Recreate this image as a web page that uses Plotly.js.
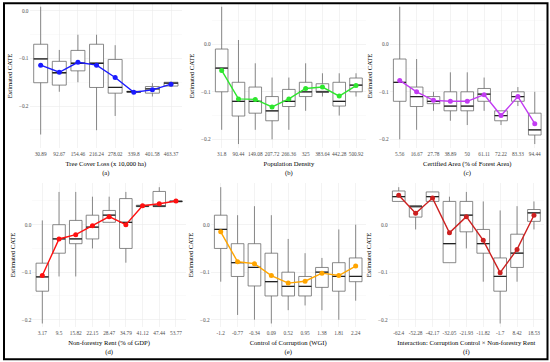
<!DOCTYPE html>
<html>
<head>
<meta charset="utf-8">
<script src="https://cdn.plot.ly/plotly-3.0.1.min.js"></script>
<style>html,body{margin:0;padding:0;background:#fff;}#chart{width:550px;height:362px;}</style>
</head>
<body>
<div id="chart"></div>
<script>
// ---------- DATA ----------
// (a) Tree Cover Loss
const aCats  = ['30.89','92.67','154.46','216.24','278.02','339.8','401.58','463.37'];
const aUpper = [0.009,-0.082,-0.050,-0.050,-0.072,-0.168,-0.152,-0.149];
const aQ3    = [-0.070,-0.106,-0.083,-0.070,-0.102,-0.169,-0.159,-0.150];
const aMed   = [-0.101,-0.130,-0.110,-0.110,-0.161,-0.170,-0.164,-0.152];
const aQ1    = [-0.151,-0.156,-0.126,-0.161,-0.173,-0.171,-0.173,-0.158];
const aLower = [-0.260,-0.170,-0.150,-0.251,-0.221,-0.172,-0.180,-0.159];
const aMean  = [-0.114,-0.129,-0.108,-0.114,-0.140,-0.171,-0.166,-0.154];

// (b) Population Density
const bCats  = ['31.8','90.44','149.08','207.72','266.36','325','383.64','442.28','500.92'];
const bUpper = [0.079,0.009,-0.040,-0.070,-0.070,-0.040,-0.061,-0.061,-0.061];
const bQ3    = [-0.010,-0.080,-0.090,-0.110,-0.095,-0.080,-0.083,-0.080,-0.071];
const bMed   = [-0.050,-0.120,-0.120,-0.140,-0.120,-0.100,-0.100,-0.120,-0.086];
const bQ1    = [-0.100,-0.151,-0.145,-0.161,-0.131,-0.110,-0.101,-0.130,-0.100];
const bLower = [-0.180,-0.210,-0.180,-0.200,-0.180,-0.140,-0.110,-0.150,-0.110];
const bMean  = [-0.055,-0.115,-0.116,-0.132,-0.115,-0.093,-0.090,-0.109,-0.087];

// (c) Certified Area
const cCats  = ['5.56','16.67','27.78','38.89','50','61.11','72.22','83.33','94.44'];
const cUpper = [0.079,-0.031,-0.100,-0.059,-0.059,-0.070,-0.140,-0.090,-0.100];
const cQ3    = [-0.031,-0.090,-0.110,-0.100,-0.100,-0.093,-0.140,-0.100,-0.145];
const cMed   = [-0.080,-0.110,-0.120,-0.130,-0.130,-0.105,-0.150,-0.110,-0.180];
const cQ1    = [-0.120,-0.131,-0.125,-0.140,-0.140,-0.120,-0.161,-0.120,-0.191];
const cLower = [-0.200,-0.180,-0.140,-0.161,-0.170,-0.140,-0.170,-0.130,-0.210];
const cMean  = [-0.076,-0.100,-0.118,-0.120,-0.120,-0.106,-0.150,-0.110,-0.167];

// (d) Non-forestry Rent
const dCats  = ['3.17','9.5','15.82','22.15','28.47','34.79','41.12','47.44','53.77'];
const dUpper = [0.009,0.069,0.069,0.059,0.059,0.069,0.041,0.079,0.051];
const dQ3    = [-0.081,0.000,0.009,0.020,0.030,0.055,0.041,0.070,0.050];
const dMed   = [-0.110,-0.030,-0.030,-0.005,0.020,0.005,0.039,0.039,0.049];
const dQ1    = [-0.140,-0.060,-0.040,-0.030,0.005,-0.050,0.038,0.038,0.048];
const dLower = [-0.208,-0.109,-0.109,-0.050,0.005,-0.080,0.038,0.038,0.048];
const dMean  = [-0.107,-0.030,-0.021,-0.002,0.017,0.000,0.040,0.044,0.050];

// (e) Control of Corruption (WGI)
const eCats  = ['-1.2','-0.77','-0.34','0.09','0.52','0.95','1.38','1.81','2.24'];
const eUpper = [0.079,0.020,0.039,0.020,-0.030,-0.060,-0.070,-0.010,0.000];
const eQ3    = [0.020,-0.040,-0.040,-0.060,-0.100,-0.109,-0.090,-0.080,-0.070];
const eMed   = [-0.010,-0.080,-0.090,-0.120,-0.130,-0.130,-0.100,-0.109,-0.109];
const eQ1    = [-0.050,-0.109,-0.129,-0.150,-0.150,-0.150,-0.132,-0.140,-0.120];
const eLower = [-0.120,-0.190,-0.200,-0.208,-0.180,-0.170,-0.180,-0.200,-0.160];
const eMean  = [-0.015,-0.078,-0.082,-0.107,-0.123,-0.119,-0.102,-0.107,-0.087];

// (f) Interaction: Corruption Control x Non-forestry Rent
const fCats  = ['-62.4','-52.28','-42.17','-32.05','-21.93','-11.82','-1.7','8.42','18.53'];
const fUpper = [0.079,0.039,0.069,0.059,0.069,0.049,0.030,0.039,0.049];
const fQ3    = [0.071,0.039,0.069,0.049,0.049,-0.010,-0.070,-0.020,0.032];
const fMed   = [0.059,0.039,0.059,-0.040,0.020,-0.040,-0.109,-0.060,0.025];
const fQ1    = [0.049,0.016,0.049,-0.080,-0.015,-0.060,-0.140,-0.090,0.007];
const fLower = [0.049,-0.010,0.049,-0.080,-0.050,-0.120,-0.208,-0.120,-0.010];
const fMean  = [0.062,0.024,0.056,-0.017,0.017,-0.033,-0.101,-0.052,0.020];

// ---------- LAYOUT HELPERS ----------
const W = 550, H = 362;
const FONT = 'Liberation Serif, Times New Roman, serif';
const panels = [
  {cats:aCats,up:aUpper,q3:aQ3,med:aMed,q1:aQ1,lo:aLower,mean:aMean,color:'#1a1aff',
   title:'Tree Cover Loss (x 10,000 ha)',tag:'(a)',px:[29.5,182.2],py:[4,148],yr:[-0.2884,0.0147]},
  {cats:bCats,up:bUpper,q3:bQ3,med:bMed,q1:bQ1,lo:bLower,mean:bMean,color:'#2ee62e',
   title:'Population Density',tag:'(b)',px:[211.6,366.1],py:[4,148],yr:[-0.2183,0.0848]},
  {cats:cCats,up:cUpper,q3:cQ3,med:cMed,q1:cQ1,lo:cLower,mean:cMean,color:'#c23cf2',
   title:'Certified Area (% of Forest Area)',tag:'(c)',px:[389.6,544.9],py:[4,148],yr:[-0.2183,0.0848]},
  {cats:dCats,up:dUpper,q3:dQ3,med:dMed,q1:dQ1,lo:dLower,mean:dMean,color:'#ff1010',
   title:'Non-forestry Rent (% of GDP)',tag:'(d)',px:[32.3,186.0],py:[183,327],yr:[-0.2154,0.0878]},
  {cats:eCats,up:eUpper,q3:eQ3,med:eMed,q1:eQ1,lo:eLower,mean:eMean,color:'#ffa500',
   title:'Control of Corruption (WGI)',tag:'(e)',px:[210.6,365.8],py:[183,327],yr:[-0.2154,0.0878]},
  {cats:fCats,up:fUpper,q3:fQ3,med:fMed,q1:fQ1,lo:fLower,mean:fMean,color:'#cc2020',
   title:'Interaction: Corruption Control × Non-forestry Rent',tag:'(f)',px:[388.6,544.1],py:[183,327],yr:[-0.2154,0.0878]}
];

const traces = [];
const layout = {
  width: W, height: H,
  margin: {l:0, r:0, t:0, b:0},
  paper_bgcolor: '#ffffff', plot_bgcolor: '#ffffff',
  showlegend: false,
  font: {family: FONT, color: '#4d4d4d'},
  shapes: [{type:'rect', xref:'paper', yref:'paper',
            x0: 4/W, x1: 547.5/W, y0: 1-359.3/H, y1: 1-3.3/H,
            line:{color:'#000', width:2}}]
};

panels.forEach((p, k) => {
  const n = p.cats.length;
  const idx = p.cats.map((_, i) => i);
  const sfx = k === 0 ? '' : String(k+1);
  const xa = 'x' + sfx, ya = 'y' + sfx;
  traces.push({
    type:'box', xaxis:xa, yaxis:ya, x: idx,
    q1: p.q1, median: p.med, q3: p.q3, lowerfence: p.lo, upperfence: p.up,
    width: 0.75, whiskerwidth: 0, boxpoints: false,
    fillcolor: '#ffffff', line: {color:'#6b6b6b', width:0.8},
    hoverinfo:'skip'
  });
  // median bars
  const mx = [], my = [];
  idx.forEach(i => { mx.push(i-0.375, i+0.375, null); my.push(p.med[i], p.med[i], null); });
  traces.push({type:'scatter', mode:'lines', xaxis:xa, yaxis:ya, x:mx, y:my,
               line:{color:'#222', width:1.3}, hoverinfo:'skip'});
  // mean line
  traces.push({type:'scatter', mode:'lines+markers', xaxis:xa, yaxis:ya, x: idx, y: p.mean,
               line:{color:p.color, width:1.4}, marker:{color:p.color, size:5},
               hoverinfo:'skip'});
  layout['xaxis' + sfx] = {
    domain:[p.px[0]/W, p.px[1]/W], anchor: ya,
    range:[-0.6, n-1+0.6], tickmode:'array', tickvals: idx, ticktext: p.cats, tickangle: 0,
    showgrid:true, gridcolor:'#ebebeb', gridwidth:0.6, zeroline:false, showline:false,
    ticks:'', ticklabelstandoff: 2, tickfont:{family:FONT, size:5.3, color:'#4d4d4d'},
    title:{text: p.title + '<br>' + p.tag, font:{family:FONT, size:6.6, color:'#000'}, standoff: 5},
    fixedrange:true
  };
  layout['yaxis' + sfx] = {
    domain:[1-p.py[1]/H, 1-p.py[0]/H], anchor: xa,
    range: p.yr, tick0: 0, dtick: 0.1, tickformat: '.1f',
    showgrid:true, gridcolor:'#ebebeb', gridwidth:0.6, zeroline:false, showline:false,
    minor:{dtick:0.05, tick0:0, showgrid:true, gridcolor:'#f5f5f5', gridwidth:0.5},
    ticks:'', tickfont:{family:FONT, size:5.3, color:'#4d4d4d'},
    title:{text:'Estimated CATE', font:{family:FONT, size:6.6, color:'#000'}, standoff: 5},
    fixedrange:true
  };
});

Plotly.newPlot('chart', traces, layout, {staticPlot:true, displayModeBar:false});
</script>
</body>
</html>
